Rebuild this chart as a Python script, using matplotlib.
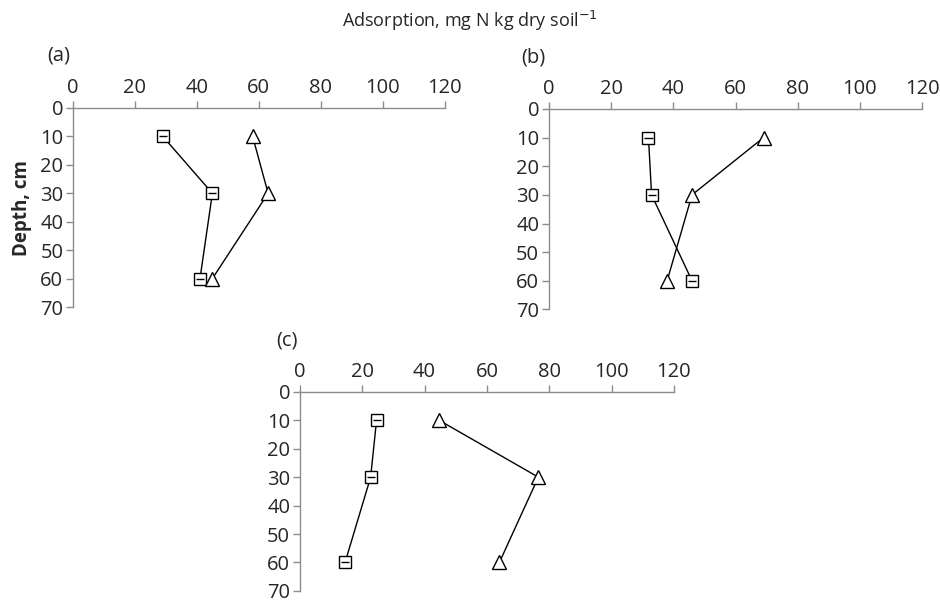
import matplotlib.pyplot as plt

plt.rcParams['font.family'] = ['Open Sans', 'DejaVu Sans']

depth = [10, 30, 60]

# panel (a)
sq_a = [29, 45, 41]
tri_a = [58, 63, 45]
# panel (b)
sq_b = [32, 33, 46]
tri_b = [69, 46, 38]
# panel (c)
sq_c = [24.6, 22.7, 14.5]
tri_c = [44.7, 76.5, 64]

sq_err = [1.3, 1.3, 1.3]

xticks = [0, 20, 40, 60, 80, 100, 120]
yticks = [0, 10, 20, 30, 40, 50, 60, 70]

fig = plt.figure(figsize=(9.4, 6.02), dpi=100)

gray = '#8c8c8c'
txt = '#262626'


def panel(rect, sq, tri, label, lx, ly):
    ax = fig.add_axes(rect)
    ax.plot(sq, depth, color='black', lw=1, marker='s', ms=8.5,
            mfc='white', mec='black', mew=1, zorder=2)
    # small error bars drawn over the square markers
    ax.errorbar(sq, depth, xerr=sq_err, fmt='none', ecolor='black',
                elinewidth=1, capsize=0, zorder=3)
    ax.plot(tri, depth, color='black', lw=1, marker='^', ms=10,
            mfc='white', mec='black', mew=1, zorder=2)
    ax.set_xlim(0, 120)
    ax.set_ylim(70, 0)
    ax.set_xticks(xticks)
    ax.set_yticks(yticks)
    ax.xaxis.tick_top()
    for s in ['right', 'bottom']:
        ax.spines[s].set_visible(False)
    for s in ['left', 'top']:
        ax.spines[s].set_color(gray)
        ax.spines[s].set_linewidth(1)
    ax.tick_params(axis='both', colors=gray, labelcolor=txt,
                   labelsize=14.5, length=5, width=1, direction='out', pad=2)
    ax.patch.set_alpha(0)
    fig.text(lx, ly, label, fontsize=14.5, color=txt, va='center')
    return ax


panel([0.0777, 0.49, 0.3953, 0.3306], sq_a, tri_a, '(a)', 0.05, 0.908)
panel([0.584, 0.486, 0.397, 0.333], sq_b, tri_b, '(b)', 0.555, 0.905)
panel([0.319, 0.0185, 0.398, 0.3305], sq_c, tri_c, '(c)', 0.294, 0.435)

fig.text(0.5, 0.965, 'Adsorption, mg N kg dry soil$^{-1}$', ha='center',
         va='center', fontsize=13, color=txt)
fig.text(0.023, 0.654, 'Depth, cm', rotation=90, ha='center', va='center',
         fontsize=13.5, fontweight='bold', color=txt)

fig.savefig('out.png', dpi=100)
